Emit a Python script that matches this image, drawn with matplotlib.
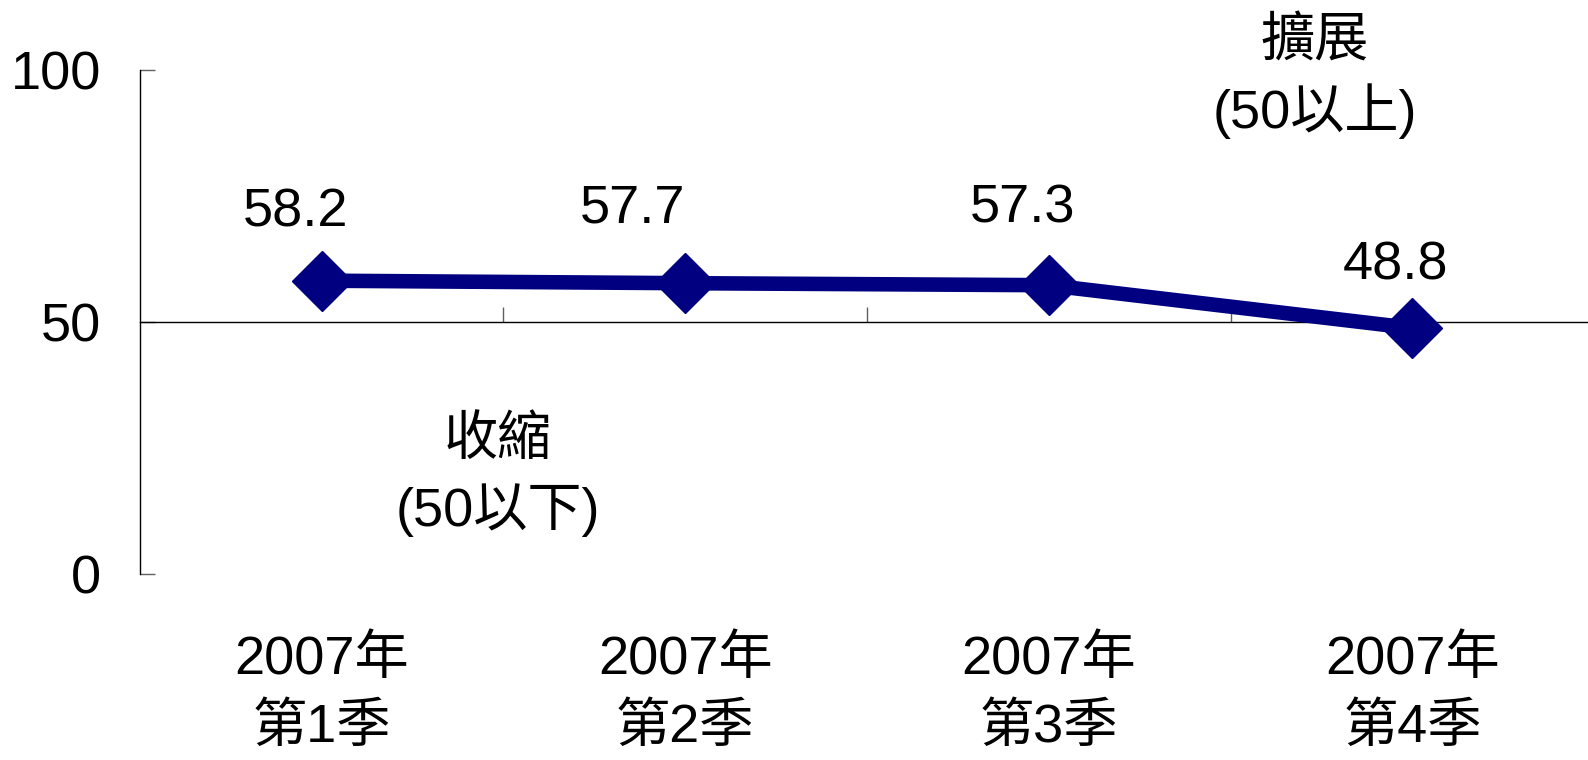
import matplotlib
matplotlib.use("Agg")
import matplotlib.pyplot as plt

plt.rcParams['font.family'] = ['Liberation Sans', 'Noto Sans CJK TC']

quarters = ["2007年\n第1季", "2007年\n第2季", "2007年\n第3季", "2007年\n第4季"]
values = [58.2, 57.7, 57.3, 48.8]
value_labels = ["58.2", "57.7", "57.3", "48.8"]
# label offsets in points (Excel-style placement)
label_offsets = [(-19, 49), (-38, 54), (-19, 55), (-12, 45)]

fig = plt.figure(figsize=(15.88, 7.6), dpi=100)
ax = fig.add_axes([0.08816, 0.24474, 0.91562, 0.66316])

x = list(range(len(values)))
ax.plot(x, values, color='#000080', lw=10.5, marker='D', ms=31,
        mec='#000080', mew=1, clip_on=False, zorder=3)

for xi, v, t, off in zip(x, values, value_labels, label_offsets):
    ax.annotate(t, (xi, v), xytext=off, textcoords='offset points',
                ha='center', va='center', fontsize=39)

ax.set_xlim(-0.5, 3.5)
ax.set_ylim(0, 100)

ax.spines['top'].set_visible(False)
ax.spines['right'].set_visible(False)
ax.spines['bottom'].set_position(('data', 50))
ax.spines['left'].set_linewidth(1)
ax.spines['bottom'].set_linewidth(1)

ax.set_yticks([0, 50, 100])
ax.tick_params(axis='y', direction='in', length=11, width=1, color='#606060',
               pad=28, labelsize=39)
ax.set_xticks([0.5, 1.5, 2.5])
ax.set_xticklabels([])
ax.tick_params(axis='x', direction='in', length=11, width=1, color='#606060')

for xi, q in zip(x, quarters):
    ax.text(xi, -0.238, q, transform=ax.get_xaxis_transform(), ha='center',
            va='center', fontsize=39, linespacing=1.45)

ax.text(2.732, 98.4, "擴展\n(50以上)", ha='center', va='center', fontsize=39,
        linespacing=1.35, clip_on=False)
ax.text(0.485, 19.4, "收縮\n(50以下)", ha='center', va='center', fontsize=39,
        linespacing=1.4)

fig.savefig("out.png", dpi=100)
